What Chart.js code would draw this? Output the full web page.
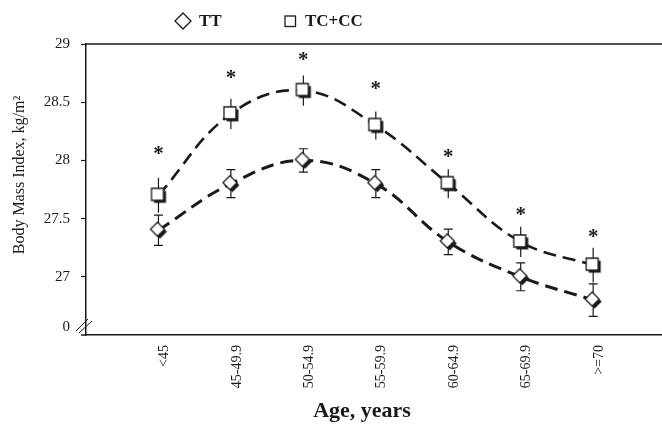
<!DOCTYPE html>
<html>
<head>
<meta charset="utf-8">
<script src="https://cdn.jsdelivr.net/npm/chart.js@4"></script>
<style>
  html, body { margin: 0; padding: 0; background: #fff; overflow: hidden; }
  canvas { display: block; }
</style>
</head>
<body>
<canvas id="chartBmi" width="662" height="428"></canvas>
<script>
// IMC por faixa etária e genótipo
const ageGroups = ['<45', '45-49.9', '50-54.9', '55-59.9', '60-64.9', '65-69.9', '>=70'];
const bmiTT = [27.4, 27.8, 28.0, 27.8, 27.3, 27.0, 26.8];
const errTT = [0.13, 0.12, 0.10, 0.12, 0.11, 0.12, 0.14];
const bmiTC = [27.7, 28.4, 28.6, 28.3, 27.8, 27.3, 27.1];
const errTC = [0.15, 0.13, 0.13, 0.12, 0.125, 0.13, 0.15];
const starY = [28.09, 28.75, 28.90, 28.65, 28.07, 27.57, 27.38];
const yTicks = [27, 27.5, 28, 28.5, 29];
const yBreakTick = 26.57;

const SERIF = '"Liberation Serif", "Times New Roman", serif';
const INK = '#1a1a1a';

function makeMarker(shape) {
  const c = document.createElement('canvas');
  c.width = 26; c.height = 26;
  const g = c.getContext('2d');
  const path = (ox, oy) => {
    g.beginPath();
    if (shape === 'diamond') {
      g.moveTo(12 + ox, 5 + oy);
      g.lineTo(19 + ox, 12 + oy);
      g.lineTo(12 + ox, 19 + oy);
      g.lineTo(5 + ox, 12 + oy);
      g.closePath();
    } else {
      g.rect(6 + ox, 6 + oy, 12, 12);
    }
  };
  g.fillStyle = INK;
  path(2.5, 2.5);
  g.fill();
  g.fillStyle = '#fff';
  g.strokeStyle = INK;
  g.lineWidth = 1.3;
  path(0, 0);
  g.fill();
  g.stroke();
  return c;
}

const extrasPlugin = {
  id: 'extras',
  beforeDatasetsDraw(chart) {
    const { ctx, scales: { x, y } } = chart;
    ctx.save();
    ctx.strokeStyle = INK;
    ctx.lineWidth = 1.2;
    const bars = (vals, errs, caps) => {
      vals.forEach((v, i) => {
        const px = x.getPixelForValue(i);
        const top = y.getPixelForValue(v + errs[i]);
        const bot = y.getPixelForValue(v - errs[i]);
        ctx.beginPath();
        ctx.moveTo(px, top);
        ctx.lineTo(px, bot);
        if (caps) {
          ctx.moveTo(px - 4.5, top); ctx.lineTo(px + 4.5, top);
          ctx.moveTo(px - 4.5, bot); ctx.lineTo(px + 4.5, bot);
        }
        ctx.stroke();
      });
    };
    bars(bmiTT, errTT, true);
    bars(bmiTC, errTC, false);
    ctx.restore();
  },
  afterDraw(chart) {
    const { ctx, chartArea: a, scales: { x, y } } = chart;
    ctx.save();
    ctx.strokeStyle = INK;
    ctx.lineWidth = 1.5;
    // borda superior e prolongamento do eixo x
    ctx.beginPath();
    ctx.moveTo(a.left, a.top); ctx.lineTo(a.right, a.top);
    ctx.moveTo(a.left - 5, a.bottom); ctx.lineTo(a.left, a.bottom);
    ctx.stroke();
    // quebra do eixo
    ctx.lineWidth = 1;
    ctx.beginPath();
    ctx.moveTo(76, 331); ctx.lineTo(88, 319);
    ctx.moveTo(79, 333); ctx.lineTo(92, 321);
    ctx.stroke();

    // asteriscos
    ctx.fillStyle = INK;
    ctx.font = 'bold 21px ' + SERIF;
    ctx.textAlign = 'center';
    ctx.textBaseline = 'middle';
    starY.forEach((v, i) => {
      ctx.fillText('*', x.getPixelForValue(i), y.getPixelForValue(v) + 5);
    });

    // legenda
    ctx.lineWidth = 1.3;
    ctx.beginPath();
    ctx.moveTo(183, 13); ctx.lineTo(191, 21); ctx.lineTo(183, 29); ctx.lineTo(175, 21);
    ctx.closePath();
    ctx.stroke();
    ctx.strokeRect(285, 16, 10.5, 10.5);
    ctx.font = 'bold 17px ' + SERIF;
    ctx.textAlign = 'left';
    ctx.fillText('TT', 199, 22);
    ctx.fillText('TC+CC', 305, 22);

    // títulos dos eixos
    ctx.font = 'bold 22px ' + SERIF;
    ctx.textAlign = 'center';
    ctx.fillText('Age, years', 362, 411);
    ctx.translate(20, 175);
    ctx.rotate(-Math.PI / 2);
    ctx.font = '16px ' + SERIF;
    ctx.fillText('Body Mass Index, kg/m\u00B2', 0, 0);
    ctx.restore();
  }
};

const toPoints = (vals) => vals.map((v, i) => ({ x: i, y: v }));

new Chart(document.getElementById('chartBmi').getContext('2d'), {
  type: 'line',
  data: {
    datasets: [
      {
        label: 'TT',
        data: toPoints(bmiTT),
        borderColor: INK,
        borderWidth: 3,
        borderDash: [13, 7],
        tension: 0.4,
        fill: false,
        pointStyle: makeMarker('diamond'),
        pointRadius: 8,
      },
      {
        label: 'TC+CC',
        data: toPoints(bmiTC),
        borderColor: INK,
        borderWidth: 2.6,
        borderDash: [13, 7],
        tension: 0.4,
        fill: false,
        pointStyle: makeMarker('square'),
        pointRadius: 8,
      },
    ],
  },
  options: {
    responsive: false,
    animation: false,
    layout: { autoPadding: false, padding: { top: 44, right: 0, bottom: 0, left: 0 } },
    plugins: { legend: { display: false }, tooltip: { enabled: false } },
    scales: {
      x: {
        type: 'linear',
        min: -1,
        max: 6.95,
        afterBuildTicks: (s) => { s.ticks = ageGroups.map((_, i) => ({ value: i })); },
        afterFit: (s) => { s.height = 93; s.paddingLeft = 0; s.paddingRight = 0; },
        ticks: {
          callback: (v) => ageGroups[v],
          minRotation: 90,
          maxRotation: 90,
          autoSkip: false,
          padding: 10,
          labelOffset: 6,
          color: INK,
          font: { family: SERIF, size: 14 },
        },
        grid: { drawOnChartArea: false, drawTicks: false },
        border: { display: true, color: INK, width: 1.5 },
      },
      y: {
        min: 26.5,
        max: 29,
        afterBuildTicks: (s) => { s.ticks = [yBreakTick, ...yTicks].map((v) => ({ value: v })); },
        afterFit: (s) => { s.width = 86; s.paddingTop = 0; s.paddingBottom = 0; },
        ticks: {
          callback: (v) => (v < 26.9 ? '0' : String(v)),
          padding: 11,
          color: INK,
          font: { family: SERIF, size: 15 },
        },
        grid: {
          drawOnChartArea: false,
          drawTicks: true,
          tickLength: 5,
          tickWidth: 1.2,
          tickColor: (c) => (c.tick && c.tick.value < 26.9 ? 'rgba(0,0,0,0)' : INK),
        },
        border: { display: true, color: INK, width: 1.5 },
      },
    },
  },
  plugins: [extrasPlugin],
});
</script>
</body>
</html>
